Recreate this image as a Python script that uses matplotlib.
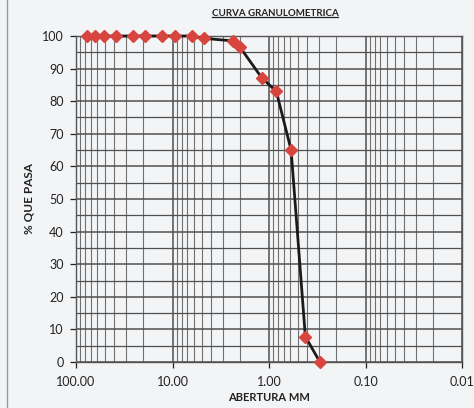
import matplotlib
matplotlib.use("Agg")
import matplotlib.pyplot as plt
from matplotlib.ticker import FixedLocator, LogLocator, NullFormatter, FixedFormatter
from matplotlib.lines import Line2D

# Sieve openings (mm) and cumulative percent passing
abertura_mm = [76.2, 63.5, 50.8, 38.1, 25.4, 19.05, 12.7, 9.525, 6.35,
               4.76, 2.38, 2.00, 1.19, 0.84, 0.59, 0.42, 0.297]
pct_pasa = [100, 100, 100, 100, 100, 100, 100, 100, 100,
            99.3, 98.5, 96.6, 87.2, 83.0, 65.0, 7.8, 0.0]

x_ticks = [100, 10, 1, 0.1, 0.01]
x_tick_labels = ["100.00", "10.00", "1.00", "0.10", "0.01"]
y_ticks = list(range(0, 101, 10))

bg = "#f3f4f6"
grid_c = "#505050"
text_c = "#222222"

plt.rcParams["font.family"] = ["Lato", "DejaVu Sans"]

fig = plt.figure(figsize=(4.74, 4.08), dpi=100, facecolor=bg)
ax = fig.add_axes([76 / 474, 1 - 362 / 408, (462 - 76) / 474, (362 - 36) / 408])
ax.set_facecolor(bg)

ax.set_xscale("log")
ax.set_xlim(100, 0.01)
ax.set_ylim(0, 100)

ax.xaxis.set_major_locator(FixedLocator(x_ticks))
ax.xaxis.set_major_formatter(FixedFormatter(x_tick_labels))
ax.xaxis.set_minor_locator(LogLocator(base=10, subs=range(2, 10)))
ax.xaxis.set_minor_formatter(NullFormatter())
ax.yaxis.set_major_locator(FixedLocator(y_ticks))
ax.yaxis.set_minor_locator(FixedLocator(list(range(5, 100, 10))))

ax.grid(True, which="major", axis="both", color=grid_c, linewidth=1.1)
ax.grid(True, which="minor", axis="x", color=grid_c, linewidth=0.8, alpha=0.8)
ax.grid(True, which="minor", axis="y", color=grid_c, linewidth=0.9)
ax.set_axisbelow(True)

for s in ax.spines.values():
    s.set_color("#555555")
    s.set_linewidth(1.0)

ax.tick_params(axis="both", which="major", labelsize=9, colors=text_c,
               length=4, width=0.9, direction="out")
ax.tick_params(axis="x", pad=6)
ax.tick_params(axis="y", pad=5)
ax.tick_params(axis="both", which="minor", length=0)

ax.plot(abertura_mm, pct_pasa, color="#1a1a1a", linewidth=2.0, zorder=3,
        solid_joinstyle="round", clip_on=False)
ax.plot(abertura_mm, pct_pasa, linestyle="none", marker="D", markersize=6.5,
        markerfacecolor="#d8453f", markeredgecolor="#d8453f", zorder=4,
        clip_on=False)

ax.set_xlabel("ABERTURA MM", fontsize=8, fontweight="bold", color=text_c, labelpad=3)
ax.set_ylabel("% QUE PASA", fontsize=8.5, fontweight="bold", color=text_c, labelpad=5)

title = fig.text(275 / 474, 1 - 14 / 408, "CURVA GRANULOMETRICA", ha="center",
                 va="center", fontsize=7, fontweight="bold", color=text_c)
# underline beneath the title
fig.canvas.draw()
bb = title.get_window_extent()
inv = fig.transFigure.inverted()
(x0, y0), (x1, y1) = inv.transform([(bb.x0, bb.y0), (bb.x1, bb.y1)])
fig.add_artist(Line2D([x0, x1], [y0 + 0.003, y0 + 0.003], transform=fig.transFigure,
                      color=text_c, linewidth=0.9))

# left edge of the chart frame
fig.add_artist(Line2D([7 / 474, 7 / 474], [0, 1], transform=fig.transFigure,
                      color="#9a9a9a", linewidth=1.0))

fig.savefig("out.png", dpi=100, facecolor=bg)
